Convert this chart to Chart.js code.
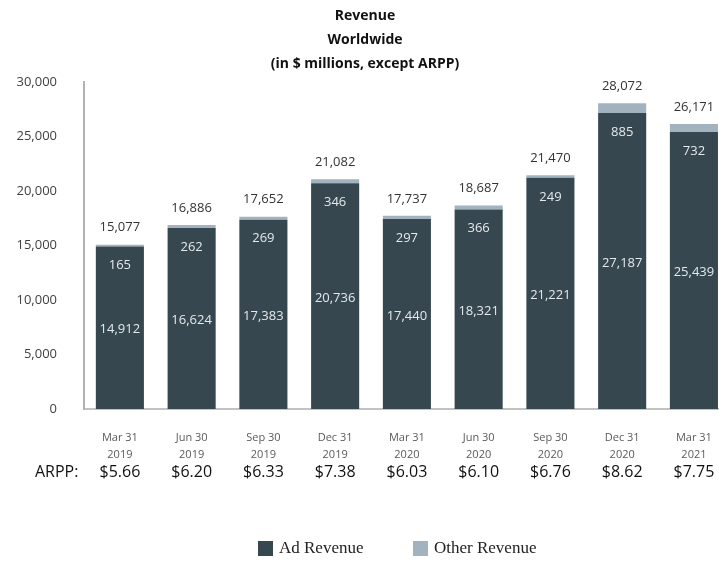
<!DOCTYPE html>
<html lang="en">
<head>
  <meta charset="UTF-8">
  <title>Revenue Worldwide</title>
  <script src="https://cdn.jsdelivr.net/npm/chart.js"></script>
  <style>
    html, body {
      margin: 0;
      padding: 0;
      background: #fff;
      overflow: hidden;
    }
    #wrap {
      width: 732px;
      height: 569px;
    }
  </style>
</head>
<body>
  <div id="wrap">
    <canvas id="revenueChart" width="732" height="569"></canvas>
  </div>

  <script>
    // Quarter labels (two lines each)
    const quarters = [
      ["Mar 31", "2019"], ["Jun 30", "2019"], ["Sep 30", "2019"], ["Dec 31", "2019"],
      ["Mar 31", "2020"], ["Jun 30", "2020"], ["Sep 30", "2020"], ["Dec 31", "2020"],
      ["Mar 31", "2021"]
    ];
    // Revenue in $ millions
    const adRevenue = [14912, 16624, 17383, 20736, 17440, 18321, 21221, 27187, 25439];
    const otherRevenue = [165, 262, 269, 346, 297, 366, 249, 885, 732];
    const totalRevenue = [15077, 16886, 17652, 21082, 17737, 18687, 21470, 28072, 26171];
    // Average revenue per person
    const arpp = ["$5.66", "$6.20", "$6.33", "$7.38", "$6.03", "$6.10", "$6.76", "$8.62", "$7.75"];
    const yTicks = [0, 5000, 10000, 15000, 20000, 25000, 30000];

    const AD_COLOR = "#36474f";
    const OTHER_COLOR = "#a2b2bf";
    const SANS = '"Open Sans", "DejaVu Sans", sans-serif';
    const SERIF = '"Liberation Serif", "DejaVu Serif", serif';
    const LEGEND_X = [258, 413];

    const fmt = v => v.toLocaleString("en-US");

    // Value labels, ARPP row and legend
    const extras = {
      id: "extras",
      afterDatasetsDraw(chart) {
        const ctx = chart.ctx;
        const adMeta = chart.getDatasetMeta(0);
        const otherMeta = chart.getDatasetMeta(1);
        ctx.save();
        ctx.textAlign = "center";
        ctx.textBaseline = "middle";
        ctx.font = "13px " + SANS;
        adMeta.data.forEach((bar, i) => {
          const top = otherMeta.data[i].y;
          ctx.fillStyle = "#e4e9ec";
          ctx.fillText(fmt(adRevenue[i]), bar.x, (bar.y + bar.base) / 2 + 2);
          ctx.fillText(fmt(otherRevenue[i]), bar.x, bar.y + 19);
          ctx.fillStyle = "#333333";
          ctx.fillText(fmt(totalRevenue[i]), bar.x, top - 17);
        });
        ctx.restore();
      },
      afterDraw(chart) {
        const ctx = chart.ctx;
        const xScale = chart.scales.x;
        const rowY = chart.chartArea.bottom + 63;
        ctx.save();
        ctx.textBaseline = "middle";
        ctx.fillStyle = "#111111";
        ctx.font = "16px " + SANS;
        ctx.textAlign = "left";
        ctx.fillText("ARPP:", 35, rowY);
        ctx.textAlign = "center";
        arpp.forEach((v, i) => {
          ctx.fillText(v, xScale.getPixelForValue(i), rowY);
        });

        // legend
        const legY = 548;
        ctx.font = "17px " + SERIF;
        ctx.textAlign = "left";
        chart.data.datasets.forEach((ds, i) => {
          const x = LEGEND_X[i];
          ctx.fillStyle = ds.backgroundColor;
          ctx.fillRect(x, legY - 7, 15, 15);
          ctx.fillStyle = "#222222";
          ctx.fillText(ds.label, x + 21, legY + 1);
        });
        ctx.restore();
      }
    };

    const ctx = document.getElementById("revenueChart").getContext("2d");
    new Chart(ctx, {
      type: "bar",
      data: {
        labels: quarters,
        datasets: [
          { label: "Ad Revenue", data: adRevenue, backgroundColor: AD_COLOR },
          { label: "Other Revenue", data: otherRevenue, backgroundColor: OTHER_COLOR }
        ]
      },
      options: {
        responsive: false,
        animation: false,
        devicePixelRatio: 1,
        layout: { padding: { left: 0, right: 2, top: 0, bottom: 0 } },
        datasets: {
          bar: { categoryPercentage: 1.0, barPercentage: 0.67 }
        },
        plugins: {
          legend: { display: false },
          tooltip: { enabled: false },
          title: {
            display: true,
            text: ["Revenue", "Worldwide", "(in $ millions, except ARPP)"],
            color: "#111111",
            font: { family: SANS, size: 14, weight: "bold", lineHeight: 1.72 },
            padding: { top: 4, bottom: 6 }
          }
        },
        scales: {
          x: {
            stacked: true,
            grid: { display: false, drawTicks: false },
            border: { display: true, color: "#c2c2c2", width: 2 },
            ticks: {
              color: "#5a5a5a",
              font: { family: SANS, size: 11, lineHeight: 1.55 },
              padding: 20,
              maxRotation: 0
            },
            afterFit(scale) { scale.height = 160; }
          },
          y: {
            stacked: true,
            min: 0,
            max: 30000,
            afterBuildTicks(scale) { scale.ticks = yTicks.map(v => ({ value: v })); },
            grid: { display: false, drawTicks: false },
            border: { display: true, color: "#b3b3b3", width: 2 },
            ticks: {
              color: "#404040",
              font: { family: SANS, size: 13 },
              padding: 27,
              callback: v => fmt(v)
            },
            afterFit(scale) { scale.width = 84; }
          }
        }
      },
      plugins: [extras]
    });
  </script>
</body>
</html>
